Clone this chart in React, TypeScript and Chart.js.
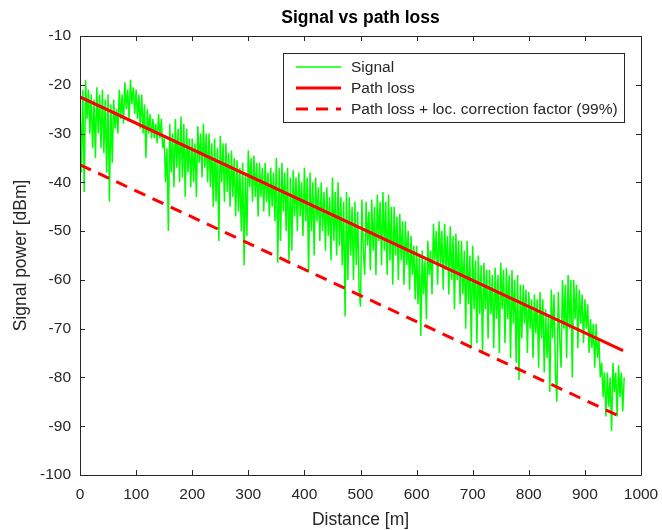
import { useEffect, useRef } from "react";
import { Chart, registerables } from "chart.js";

Chart.register(...registerables);

const TITLE = "Signal vs path loss";
const X_LABEL = "Distance [m]";
const Y_LABEL = "Signal power [dBm]";
const SERIES_NAMES = ["Signal", "Path loss", "Path loss + loc. correction factor (99%)"];
const X_TICKS = [0, 100, 200, 300, 400, 500, 600, 700, 800, 900, 1000];
const Y_TICKS = [-100, -90, -80, -70, -60, -50, -40, -30, -20, -10];

// measured signal, one sample every 2.5 m starting at 0 m
const SIGNAL_STEP_M = 2.5;
const SIGNAL_DBM = [
  -23, -38, -21, -42, -19, -27, -21, -30, -22, -33, -23, -35, -20.5, -30, -22, -33,
  -21, -34, -23, -38, -22, -44, -24, -36, -23, -29, -25, -30, -21, -27, -22, -28,
  -19.5, -25, -21, -27, -19, -24, -20.5, -26, -21, -27, -22, -29, -22, -30, -24, -35,
  -25, -30, -26, -31, -27, -31, -28, -32, -26, -31, -27, -33, -31, -40, -33, -50,
  -28, -38, -30, -41, -27, -37, -29, -40, -26.5, -39, -28, -43, -29, -38, -31, -41,
  -31, -40, -32, -43, -28.5, -36, -30, -39, -28, -37, -30, -40, -30, -41, -32, -45,
  -31, -44, -33, -52, -30.5, -40, -32, -44, -32, -42, -34, -45, -33.5, -43, -35, -47,
  -35.5, -46, -37, -50, -36, -57, -38, -51, -33.5, -41, -35, -44, -34.5, -43, -36, -47,
  -36, -43, -37, -46, -36, -44, -38, -47, -37, -45, -38, -48, -35, -56.5, -37, -52,
  -36, -46, -38, -50, -37, -56, -39, -54, -37.5, -47, -39, -50, -38, -47, -40, -51,
  -37, -48, -39, -58.5, -38, -50, -40, -55, -39, -48, -41, -52, -40, -50, -42, -54,
  -41, -51, -43, -56, -39, -52, -42, -55, -40, -53, -43, -57, -44, -67.5, -42, -60,
  -43, -55, -45, -60, -44, -57, -46, -62, -65.5, -43.5, -54, -59, -44, -53, -46, -58,
  -43.5, -54, -45, -59, -42.5, -52, -44, -57, -42, -54, -44, -59, -42.5, -56, -45, -61,
  -45, -55, -47, -60, -46.5, -56, -48, -61, -48, -57, -50, -62, -51, -59, -53, -64,
  -53, -65, -55, -71.5, -54, -63, -56, -68, -52, -59, -54, -63, -48.5, -56, -50, -61,
  -48, -57, -50, -62, -48.5, -58, -51, -63, -49, -60, -51, -66, -50.5, -60, -52, -65,
  -52, -63, -54, -70, -52, -65, -55, -74, -53, -66, -56, -73, -55, -67, -57, -75,
  -56.5, -66, -58, -72, -58, -67, -59, -74, -57.5, -68, -59, -75, -56.5, -66, -58, -73,
  -57.5, -68, -59, -76, -58, -69, -60, -77, -59, -80.5, -61, -72, -61, -69, -62, -75,
  -62.5, -70, -64, -76, -63, -71, -64, -78, -62.5, -72, -64, -79, -66, -76, -67, -83,
  -62, -72, -63, -79, -85, -62.5, -72, -78, -60, -70, -61, -76, -59, -70, -60, -80,
  -60, -68, -61, -74, -62, -69, -63, -73, -64, -70, -65, -75, -68, -74, -69, -78,
  -69, -76, -72, -80, -77, -84, -79, -88, -79, -86, -80, -91, -77, -83, -79, -88,
  -77.5, -84, -79, -87, -80,
];

const PATH_LOSS_X = [0, 968];
const PATH_LOSS_DBM = [-22.5, -74.5];
const CORRECTED_X = [0, 968];
const CORRECTED_DBM = [-36.4, -88.3];

const TEXT_COLOR = "#262626";
const AXIS_COLOR = "#262626";
const FONT = "'Liberation Sans', Arial, Helvetica, sans-serif";

const frameAndText = {
  id: "frameAndText",
  afterDraw(chart: any) {
    const ctx = chart.ctx as CanvasRenderingContext2D;
    const { left, right, top, bottom } = chart.chartArea;
    const xs = chart.scales.x;
    const ys = chart.scales.y;
    ctx.save();
    // box
    ctx.strokeStyle = AXIS_COLOR;
    ctx.lineWidth = 1;
    ctx.setLineDash([]);
    ctx.beginPath();
    ctx.rect(Math.round(left) + 0.5, Math.round(top) + 0.5, Math.round(right - left), Math.round(bottom - top));
    ctx.stroke();
    // inner ticks
    const tl = 5;
    ctx.beginPath();
    for (const v of X_TICKS) {
      const px = Math.round(xs.getPixelForValue(v)) + 0.5;
      ctx.moveTo(px, bottom);
      ctx.lineTo(px, bottom - tl);
      ctx.moveTo(px, top);
      ctx.lineTo(px, top + tl);
    }
    for (const v of Y_TICKS) {
      const py = Math.round(ys.getPixelForValue(v)) + 0.5;
      ctx.moveTo(left, py);
      ctx.lineTo(left + tl, py);
      ctx.moveTo(right, py);
      ctx.lineTo(right - tl, py);
    }
    ctx.stroke();

    // title
    ctx.fillStyle = "#000";
    ctx.font = `bold 17.5px ${FONT}`;
    ctx.textAlign = "center";
    ctx.textBaseline = "middle";
    ctx.fillText(TITLE, (left + right) / 2, 18);

    // axis labels
    ctx.fillStyle = TEXT_COLOR;
    ctx.font = `17.5px ${FONT}`;
    ctx.fillText(X_LABEL, (left + right) / 2, 520);
    ctx.save();
    ctx.translate(21, (top + bottom) / 2);
    ctx.rotate(-Math.PI / 2);
    ctx.fillText(Y_LABEL, 0, 0);
    ctx.restore();

    // legend
    const bx = 283.5, by = 53.5, bw = 341, bh = 69;
    ctx.fillStyle = "#fff";
    ctx.fillRect(bx, by, bw, bh);
    ctx.strokeStyle = AXIS_COLOR;
    ctx.lineWidth = 1;
    ctx.strokeRect(bx, by, bw, bh);
    const rows = [67, 88, 109];
    const styles = [
      { color: "#00ff00", width: 1.5, dash: [] as number[] },
      { color: "#ff0000", width: 3, dash: [] as number[] },
      { color: "#ff0000", width: 3, dash: [12, 8] },
    ];
    ctx.font = `15.5px ${FONT}`;
    ctx.textAlign = "left";
    ctx.textBaseline = "middle";
    rows.forEach((y, i) => {
      ctx.strokeStyle = styles[i].color;
      ctx.lineWidth = styles[i].width;
      ctx.setLineDash(styles[i].dash);
      ctx.beginPath();
      ctx.moveTo(296, y);
      ctx.lineTo(341, y);
      ctx.stroke();
      ctx.fillStyle = TEXT_COLOR;
      ctx.fillText(SERIES_NAMES[i], 351, y + 0.5);
    });
    ctx.restore();
  },
};

export default function App() {
  const ref = useRef<HTMLCanvasElement | null>(null);
  useEffect(() => {
    document.body.style.margin = "0";
    const canvas = ref.current;
    if (!canvas) return;
    const signal = SIGNAL_DBM.map((v, i) => ({ x: i * SIGNAL_STEP_M, y: v }));
    const pathLoss = PATH_LOSS_X.map((x, i) => ({ x, y: PATH_LOSS_DBM[i] }));
    const corrected = CORRECTED_X.map((x, i) => ({ x, y: CORRECTED_DBM[i] }));
    const chart = new Chart(canvas, {
      type: "line",
      data: {
        datasets: [
          {
            label: SERIES_NAMES[0],
            data: signal,
            borderColor: "#00ff00",
            borderWidth: 1.5,
            pointRadius: 0,
            tension: 0,
            order: 3,
          },
          {
            label: SERIES_NAMES[1],
            data: pathLoss,
            borderColor: "#ff0000",
            borderWidth: 3,
            pointRadius: 0,
            order: 1,
          },
          {
            label: SERIES_NAMES[2],
            data: corrected,
            borderColor: "#ff0000",
            borderWidth: 3,
            borderDash: [12, 8],
            pointRadius: 0,
            order: 2,
          },
        ],
      },
      options: {
        responsive: false,
        animation: false,
        events: [],
        layout: { padding: { top: 36, right: 21, left: 0, bottom: 0 } },
        plugins: {
          legend: { display: false },
          title: { display: false },
          tooltip: { enabled: false },
        },
        scales: {
          x: {
            type: "linear",
            min: 0,
            max: 1000,
            afterFit: (s: any) => {
              s.height = 55;
              s.paddingLeft = 0;
              s.paddingRight = 0;
            },
            afterBuildTicks: (s: any) => {
              s.ticks = X_TICKS.map((v) => ({ value: v }));
            },
            grid: { display: false, drawTicks: false },
            border: { display: false },
            ticks: {
              autoSkip: false,
              maxRotation: 0,
              padding: 10,
              color: TEXT_COLOR,
              font: { family: FONT, size: 15.5 },
              callback: (v: any) => String(v),
            },
          },
          y: {
            type: "linear",
            min: -100,
            max: -10,
            afterFit: (s: any) => {
              s.width = 80;
              s.paddingTop = 0;
              s.paddingBottom = 0;
            },
            afterBuildTicks: (s: any) => {
              s.ticks = Y_TICKS.map((v) => ({ value: v }));
            },
            grid: { display: false, drawTicks: false },
            border: { display: false },
            ticks: {
              autoSkip: false,
              padding: 9,
              color: TEXT_COLOR,
              font: { family: FONT, size: 15.5 },
              callback: (v: any) => String(v),
            },
          },
        },
      },
      plugins: [frameAndText],
    });
    return () => chart.destroy();
  }, []);
  return (
    <div style={{ width: 662, height: 530 }}>
      <canvas ref={ref} width={662} height={530} style={{ display: "block" }} />
    </div>
  );
}
